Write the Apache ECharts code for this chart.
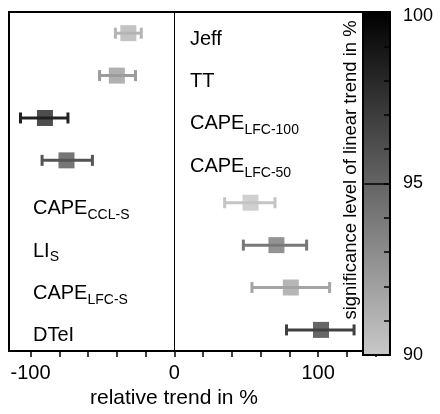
<!DOCTYPE html>
<html><head><meta charset="utf-8">
<script src="https://cdn.jsdelivr.net/npm/echarts@6/dist/echarts.min.js"></script>
<style>html,body{margin:0;padding:0;background:#fff}#c{width:440px;height:414px}</style>
</head><body><div id="c"></div>
<script>
// ---- data ----
const categories = ['Jeff', 'TT', 'CAPE_LFC-100', 'CAPE_LFC-50', 'CAPE_CCL-S', 'LI_S', 'CAPE_LFC-S', 'DTeI'];
const trend = [-32, -40, -90, -75, 53, 71, 81, 102];
const lower = [-41, -52, -107, -92, 35, 48, 54, 78];
const upper = [-23, -27, -74, -57, 70, 92, 108, 125];
const significance = [91.0, 92.2, 98.3, 95.8, 90.2, 94.0, 91.8, 96.8];
const xTickValues = [-100, -80, -60, -40, -20, 0, 20, 40, 60, 80, 100, 120, 140];
const xLabelValues = [-100, 0, 100];
const cbMin = 90, cbMax = 100, cbLabelStep = 5, cbTickStep = 1;
const xName = 'relative trend in %';
const cbName = 'significance level of linear trend in %';

const FONT = '"Liberation Sans", Arial, Helvetica, sans-serif';
const rows = categories.map((c, i) => [trend[i], i, lower[i], upper[i], significance[i]]);

function fmtCat(name) {
  const p = name.split('_');
  return p.length > 1 ? p[0] + '{s|' + p[1] + '}' : p[0];
}
const catLabel = {
  interval: 0, inside: true, color: '#000', fontFamily: FONT, fontSize: 20,
  padding: [12, 0, 0, 0],
  rich: { s: { fontSize: 14, fontFamily: FONT, color: '#000', padding: [13, 0, 0, 0] } }
};

const chart = echarts.init(document.getElementById('c'), null, { renderer: 'canvas' });
chart.setOption({
  animation: false,
  backgroundColor: '#fff',
  grid: [
    { left: 9, right: 50, top: 12, bottom: 59, show: true, borderColor: '#000', borderWidth: 2, backgroundColor: 'transparent' },
    { left: 363, right: 50, top: 12, bottom: 59, show: true, borderColor: '#000', borderWidth: 2, backgroundColor: 'transparent', z: 6 }
  ],
  xAxis: [
    {
      gridIndex: 0, type: 'value', min: -115, max: 150,
      axisLine: { show: true, onZero: false, lineStyle: { color: '#000', width: 2 } },
      axisTick: { show: true, customValues: xTickValues, length: 6, lineStyle: { color: '#000', width: 1.5 } },
      axisLabel: { customValues: xLabelValues, color: '#000', fontFamily: FONT, fontSize: 20, margin: 12 },
      splitLine: { show: false },
      name: xName, nameLocation: 'middle', nameGap: 35,
      nameTextStyle: { color: '#000', fontFamily: FONT, fontSize: 21, padding: [0, 51, 0, 0] }
    },
    { gridIndex: 1, type: 'value', min: 0, max: 1, show: false }
  ],
  yAxis: [
    {
      gridIndex: 0, type: 'category', data: categories, inverse: true, position: 'left',
      axisLine: { show: false, onZero: false }, axisTick: { show: false }, splitLine: { show: false },
      axisLabel: Object.assign({}, catLabel, { margin: 24, formatter: (v, i) => i >= 4 ? fmtCat(v) : '' })
    },
    {
      gridIndex: 0, type: 'category', data: categories, inverse: true, position: 'left', offset: -165,
      axisLine: { show: true, onZero: false, lineStyle: { color: '#000', width: 1 } },
      axisTick: { show: false }, splitLine: { show: false },
      axisLabel: Object.assign({}, catLabel, { margin: 16, formatter: (v, i) => i < 4 ? fmtCat(v) : '' })
    },
    {
      gridIndex: 1, type: 'value', min: cbMin, max: cbMax, interval: cbLabelStep, position: 'right', z: 6,
      axisLine: { show: false }, axisTick: { show: false },
      axisLabel: {
        color: '#000', fontFamily: FONT, fontSize: 18, margin: 13,
        formatter: v => v === cbMax ? '{t|' + v + '}' : String(v),
        rich: { t: { fontSize: 18, fontFamily: FONT, color: '#000', padding: [8, 0, 0, 0] } }
      },
      splitLine: { show: true, lineStyle: { color: '#000', width: 1.5 } }
    },
    {
      gridIndex: 1, type: 'value', min: cbMin, max: cbMax, interval: cbTickStep, position: 'right', z: 7,
      axisLine: { show: false }, axisLabel: { show: false }, splitLine: { show: false },
      axisTick: { show: true, inside: true, length: 6, lineStyle: { color: '#000', width: 1.5 } }
    }
  ],
  visualMap: {
    type: 'continuous', min: cbMin, max: cbMax, dimension: 4, seriesIndex: [0, 1],
    inRange: { color: ['#c8c8c8', '#000000'] },
    orient: 'vertical', left: 363, top: 12, itemWidth: 27, itemHeight: 343,
    padding: 0, calculable: false, hoverLink: false, text: null, showLabel: false
  },
  graphic: [{
    type: 'text', x: 351, y: 170, rotation: Math.PI / 2, z: 10,
    style: { text: cbName, fill: '#000', font: '18.5px ' + FONT, textAlign: 'center', textVerticalAlign: 'middle' }
  }],
  series: [
    {
      type: 'custom', xAxisIndex: 0, yAxisIndex: 0, data: rows,
      encode: { x: [0, 2, 3], y: 1 },
      renderItem: function (params, api) {
        const yv = api.value(1);
        const p1 = api.coord([api.value(2), yv]);
        const p2 = api.coord([api.value(3), yv]);
        const color = api.visual('color');
        const cap = 5.5;
        const st = { stroke: color, lineWidth: 3 };
        return {
          type: 'group', children: [
            { type: 'line', shape: { x1: p1[0], y1: p1[1], x2: p2[0], y2: p2[1] }, style: st },
            { type: 'line', shape: { x1: p1[0], y1: p1[1] - cap, x2: p1[0], y2: p1[1] + cap }, style: st },
            { type: 'line', shape: { x1: p2[0], y1: p2[1] - cap, x2: p2[0], y2: p2[1] + cap }, style: st }
          ]
        };
      }
    },
    {
      type: 'scatter', xAxisIndex: 0, yAxisIndex: 0, data: rows,
      encode: { x: 0, y: 1 }, symbol: 'rect', symbolSize: 16, z: 3
    }
  ]
});
</script></body></html>
